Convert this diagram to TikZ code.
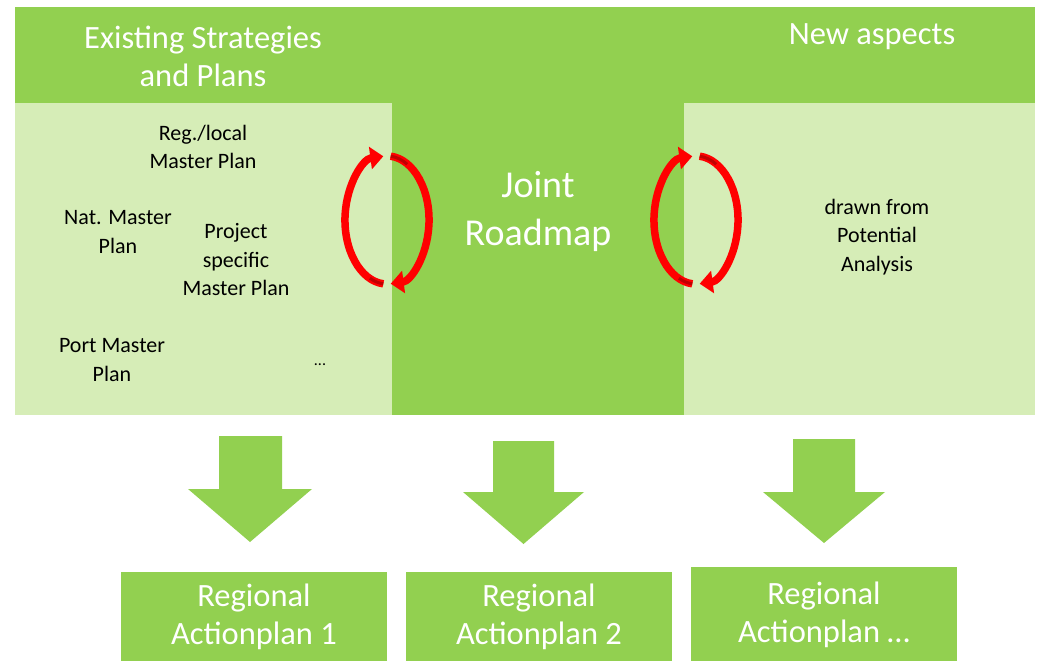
\documentclass[tikz,border=0pt]{standalone}
\usepackage{fontspec}
\setmainfont{Carlito}
\usetikzlibrary{arrows.meta}
\definecolor{dgreen}{HTML}{92D050}
\definecolor{lgreen}{HTML}{D6EDB7}
\definecolor{dred}{HTML}{C00000}
\definecolor{bred}{HTML}{FF0000}
\tikzset{
  head/.style={text=white, align=center, inner sep=0pt, font=\fontsize{32.5}{38}\selectfont},
  bigtxt/.style={text=white, align=center, inner sep=0pt, font=\fontsize{38}{48}\selectfont},
  body/.style={text=black, align=center, inner sep=0pt, font=\fontsize{22}{28.5}\selectfont},
  apbox/.style={fill=dgreen},
  downarrow/.style={fill=dgreen},
  cycarrow/.style={bred, line width=7.5pt, -{Triangle[length=13pt,width=22pt]}},
  cyctail/.style={dred, line width=3pt},
}
\begin{document}
\begin{tikzpicture}[x=1pt,y=-1pt]
\useasboundingbox (0,0) rectangle (1039,661);
% top band and panels
\fill[dgreen] (15,7) rectangle (1035,103);
\fill[lgreen] (15,103) rectangle (392,415);
\fill[lgreen] (684,103) rectangle (1035,415);
\fill[dgreen] (392,7) rectangle (684,415);
% headers
\node[head] (exist) at (203,56) {Existing Strategies\\and Plans};
\node[head] (new) at (872,37) {New aspects};
\node[bigtxt] (joint) at (538,211) {Joint\\Roadmap};
% left panel texts
\node[body] (reg) at (203,147) {Reg./local\\Master Plan};
\node[body] (nat) at (118,232) {Nat. Master\\Plan};
\node[body] (proj) at (236,260) {Project\\specific\\Master Plan};
\node[body] (port) at (112,360) {Port Master\\Plan};
\node[body, font=\fontsize{16}{20}\selectfont] (dots) at (320,365) {...};
% right panel text
\node[body] (drawn) at (877,237) {drawn from\\Potential\\Analysis};
% cycle arrows left
\coordinate (la1) at (383.3,283.8);
\coordinate (la2) at (390.7,156.2);
\draw[cycarrow] (la1) arc[start angle=265,end angle=95,x radius=42pt,y radius=64pt];
\draw[cycarrow] (la2) arc[start angle=85,end angle=-85,x radius=42pt,y radius=64pt];
\draw[cyctail] (la1) arc[start angle=265,end angle=245,x radius=40pt,y radius=62pt];
\draw[cyctail] (la2) arc[start angle=85,end angle=60,x radius=40pt,y radius=62pt];
% cycle arrows right
\coordinate (ra1) at (692.3,283.8);
\coordinate (ra2) at (699.7,156.2);
\draw[cycarrow] (ra1) arc[start angle=265,end angle=95,x radius=42pt,y radius=64pt];
\draw[cycarrow] (ra2) arc[start angle=85,end angle=-85,x radius=42pt,y radius=64pt];
\draw[cyctail] (ra1) arc[start angle=265,end angle=245,x radius=40pt,y radius=62pt];
\draw[cyctail] (ra2) arc[start angle=85,end angle=60,x radius=40pt,y radius=62pt];
% down arrows
\fill[downarrow] (219,436) -- (282,436) -- (282,489) -- (312,489) -- (250,542) -- (188,489) -- (219,489) -- cycle;
\fill[downarrow] (493,441) -- (554,441) -- (554,492) -- (584,492) -- (523.5,544) -- (463,492) -- (493,492) -- cycle;
\fill[downarrow] (793,439) -- (855,439) -- (855,492) -- (885,492) -- (824,543) -- (763,492) -- (793,492) -- cycle;
% bottom boxes
\fill[apbox] (121,572) rectangle (387,661);
\fill[apbox] (406,572) rectangle (672,661);
\fill[apbox] (691,567) rectangle (957,661);
\node[head] (ap1) at (254,617) {Regional\\Actionplan 1};
\node[head] (ap2) at (539,617) {Regional\\Actionplan 2};
\node[head] (ap3) at (824,615) {Regional\\Actionplan \dots};
\end{tikzpicture}
\end{document}
